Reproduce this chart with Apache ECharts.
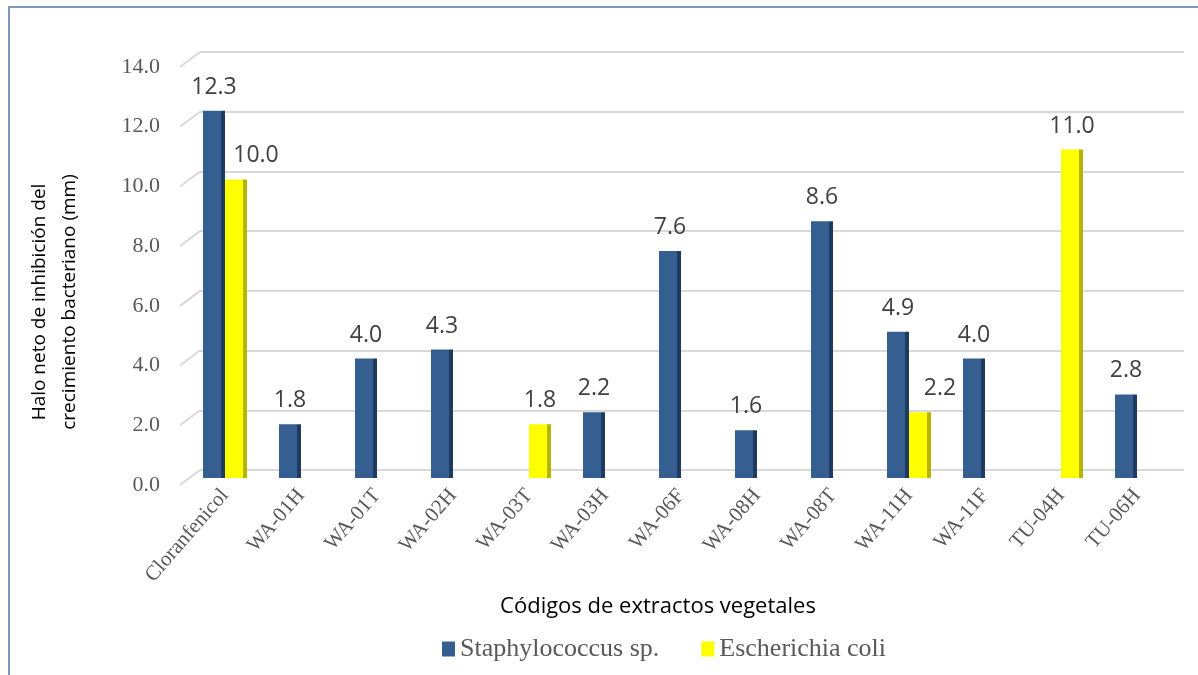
<!DOCTYPE html>
<html>
<head>
<meta charset="utf-8">
<script src="https://cdn.jsdelivr.net/npm/echarts@6/dist/echarts.min.js"></script>
<style>html,body{margin:0;padding:0;background:#fff}#c{width:1198px;height:675px}</style>
</head>
<body>
<div id="c"></div>
<script>
const categories = ['Cloranfenicol','WA-01H','WA-01T','WA-02H','WA-03T','WA-03H','WA-06F','WA-08H','WA-08T','WA-11H','WA-11F','TU-04H','TU-06H'];
const staphylococcus = [12.3, 1.8, 4.0, 4.3, null, 2.2, 7.6, 1.6, 8.6, 4.9, 4.0, null, 2.8];
const escherichia = [10.0, null, null, null, 1.8, null, null, null, null, 2.2, null, 11.0, null];
const seriesNames = ['Staphylococcus sp.', 'Escherichia coli'];
const yTicks = [0, 2, 4, 6, 8, 10, 12, 14];
const yTitle = 'Halo neto de inhibición del\ncrecimiento bacteriano (mm)';
const xTitle = 'Códigos de extractos vegetales';

const chart = echarts.init(document.getElementById('c'), null, {renderer: 'canvas'});

function face(front, side) {
  return new echarts.graphic.LinearGradient(0, 0, 1, 0, [
    {offset: 0, color: front}, {offset: 0.8, color: front},
    {offset: 0.8, color: side}, {offset: 1, color: side}
  ]);
}
const blueFill = face('#365f91', '#1f3a60');
const yellowFill = face('#ffff00', '#b5b500');
const labelStyle = {show: true, position: 'top', distance: 12, fontFamily: 'Open Sans, sans-serif', fontSize: 23, color: '#404040', formatter: p => p.value == null ? '' : Number(p.value).toFixed(1)};

// yellow labels next to a blue bar are nudged right to avoid overlap (as in the original)
const ecoliData = escherichia.map((v, i) =>
  (v != null && staphylococcus[i] != null) ? {value: v, label: {offset: [20, 0]}} : v);

chart.setOption({
  animation: false,
  backgroundColor: '#fff',
  grid: [
    {left: 200, right: 14, top: 52, bottom: 205},   // back wall
    {left: 187, right: 23, top: 60, bottom: 197},   // bars
    {left: 180, right: 30, top: 67, bottom: 190}    // tick labels (front)
  ],
  xAxis: [
    {gridIndex: 0, type: 'value', min: 0, max: 1, show: false},
    {gridIndex: 1, type: 'category', data: categories,
      axisLine: {show: false}, axisTick: {show: false},
      axisLabel: {rotate: 49, margin: 14, interval: 0, fontFamily: 'Liberation Serif, serif', fontSize: 21, color: '#595959'}},
    {gridIndex: 2, type: 'value', min: 0, max: 1, show: false}
  ],
  yAxis: [
    {gridIndex: 0, type: 'value', min: 0, max: 14, interval: 2,
      axisLabel: {show: false}, axisLine: {show: false}, axisTick: {show: false},
      splitLine: {lineStyle: {color: '#d9d9d9', width: 2}}},
    {gridIndex: 1, type: 'value', min: 0, max: 14, interval: 2, show: false, splitLine: {show: false}},
    {gridIndex: 2, type: 'value', min: 0, max: 14, interval: 2,
      axisLine: {show: false}, axisTick: {show: false}, splitLine: {show: false},
      axisLabel: {margin: 20, fontFamily: 'Liberation Serif, serif', fontSize: 22, color: '#595959', formatter: v => v.toFixed(1)}}
  ],
  legend: {
    top: 631, left: 437, itemGap: 42, itemWidth: 13, itemHeight: 15,
    icon: 'rect',
    textStyle: {fontFamily: 'Liberation Serif, serif', fontSize: 26, color: '#595959'},
    data: [
      {name: seriesNames[0], itemStyle: {color: '#365f91'}},
      {name: seriesNames[1], itemStyle: {color: '#ffff00'}}
    ]
  },
  series: [
    {name: seriesNames[0], type: 'bar', xAxisIndex: 1, yAxisIndex: 1, data: staphylococcus,
      barWidth: 22, barGap: '0%', itemStyle: {color: blueFill}, label: labelStyle},
    {name: seriesNames[1], type: 'bar', xAxisIndex: 1, yAxisIndex: 1, data: ecoliData,
      barWidth: 22, barGap: '0%', itemStyle: {color: yellowFill}, label: labelStyle},
    {type: 'custom', xAxisIndex: 2, yAxisIndex: 2, silent: true,
      data: yTicks.map(v => [0, v]),
      renderItem: (params, api) => {
        const p = api.coord([0, api.value(1)]);
        return {type: 'line', shape: {x1: p[0], y1: p[1], x2: p[0] + 20, y2: p[1] - 15},
          style: {stroke: '#d9d9d9', lineWidth: 2}};
      }}
  ],
  graphic: [
    {type: 'rect', shape: {x: 9, y: 7, width: 1200, height: 700}, style: {fill: 'none', stroke: '#7f96bc', lineWidth: 2}, silent: true},
    {type: 'text', x: 55, y: 302, rotation: Math.PI / 2,
      style: {text: yTitle, textAlign: 'center', textVerticalAlign: 'middle', fontFamily: 'Open Sans, sans-serif', fontSize: 19, lineHeight: 30, fill: '#000'}},
    {type: 'text', x: 658, y: 607,
      style: {text: xTitle, textAlign: 'center', textVerticalAlign: 'middle', fontFamily: 'Open Sans, sans-serif', fontSize: 22, fill: '#000'}}
  ]
});
</script>
</body>
</html>
